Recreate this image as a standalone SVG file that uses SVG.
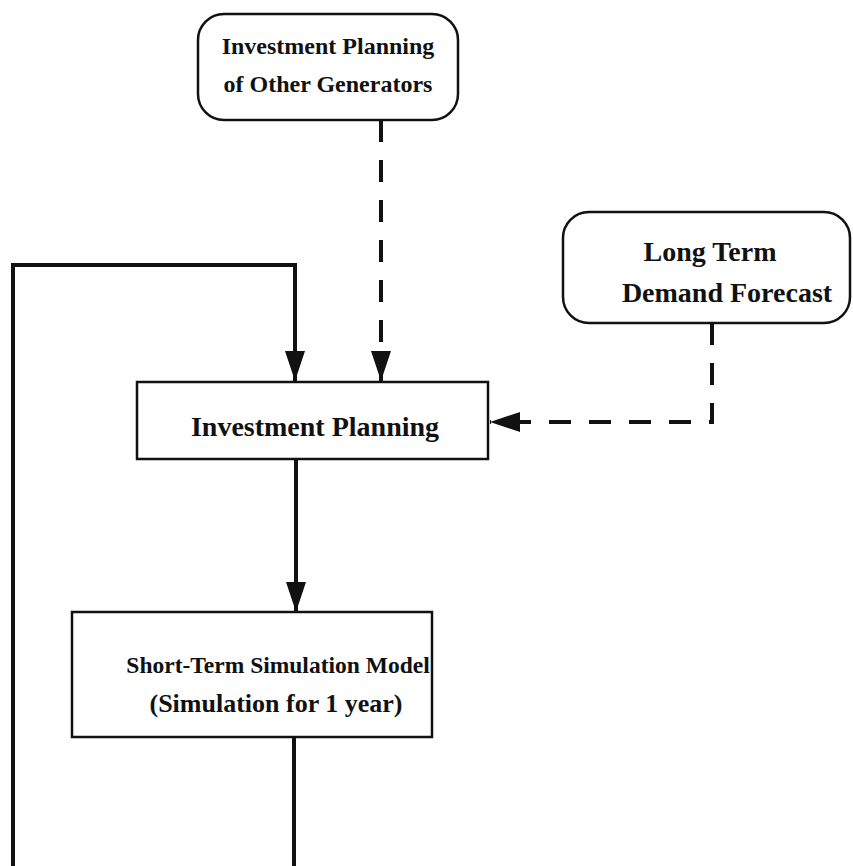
<svg xmlns="http://www.w3.org/2000/svg" width="853" height="866" viewBox="0 0 853 866">
<defs>
<marker id="arr" viewBox="0 0 30 20" refX="30" refY="10" markerWidth="30" markerHeight="20" markerUnits="userSpaceOnUse" orient="auto">
<path d="M0,0 L30,10 L0,20 Z" fill="#111"/>
</marker>
<style>
.box{fill:#fff;stroke:#111;stroke-width:2.5}
.t{font-family:"Liberation Serif","Times New Roman",serif;font-weight:bold;font-size:26px;fill:#111;text-anchor:middle}
.big{font-size:28px}
.sm{font-size:24px}
.solid{fill:none;stroke:#111;stroke-width:4}
.dash{fill:none;stroke:#111;stroke-width:4;stroke-dasharray:22 18}
</style>
</defs>
<rect width="853" height="866" fill="#fff"/>
<g id="connectors">
<polyline class="solid" points="13,866 13,265 295,265 295,381" marker-end="url(#arr)"/>
<line class="dash" x1="381" y1="120" x2="381" y2="381" marker-end="url(#arr)"/>
<polyline class="dash" points="712,323 712,422 490,422" marker-end="url(#arr)"/>
<line class="solid" x1="296" y1="459" x2="296" y2="612" marker-end="url(#arr)"/>
<line class="solid" x1="294" y1="738" x2="294" y2="866"/>
</g>
<g id="node-other">
<rect class="box" x="198" y="14" width="260" height="106" rx="26"/>
<text class="t sm" x="328" y="54">Investment Planning</text>
<text class="t sm" x="328" y="92">of Other Generators</text>
</g>
<g id="node-demand">
<rect class="box" x="563" y="212" width="287" height="111" rx="26"/>
<text class="t big" x="710" y="261">Long Term</text>
<text class="t big" x="727" y="302">Demand Forecast</text>
</g>
<g id="node-ip">
<rect class="box" x="137" y="382" width="351" height="77"/>
<text class="t big" x="315" y="436">Investment Planning</text>
</g>
<g id="node-st">
<rect class="box" x="72" y="612" width="360" height="125"/>
<text class="t" x="278" y="673" style="font-size:23.5px">Short-Term Simulation Model</text>
<text class="t" x="276" y="712">(Simulation for 1 year)</text>
</g>
</svg>
